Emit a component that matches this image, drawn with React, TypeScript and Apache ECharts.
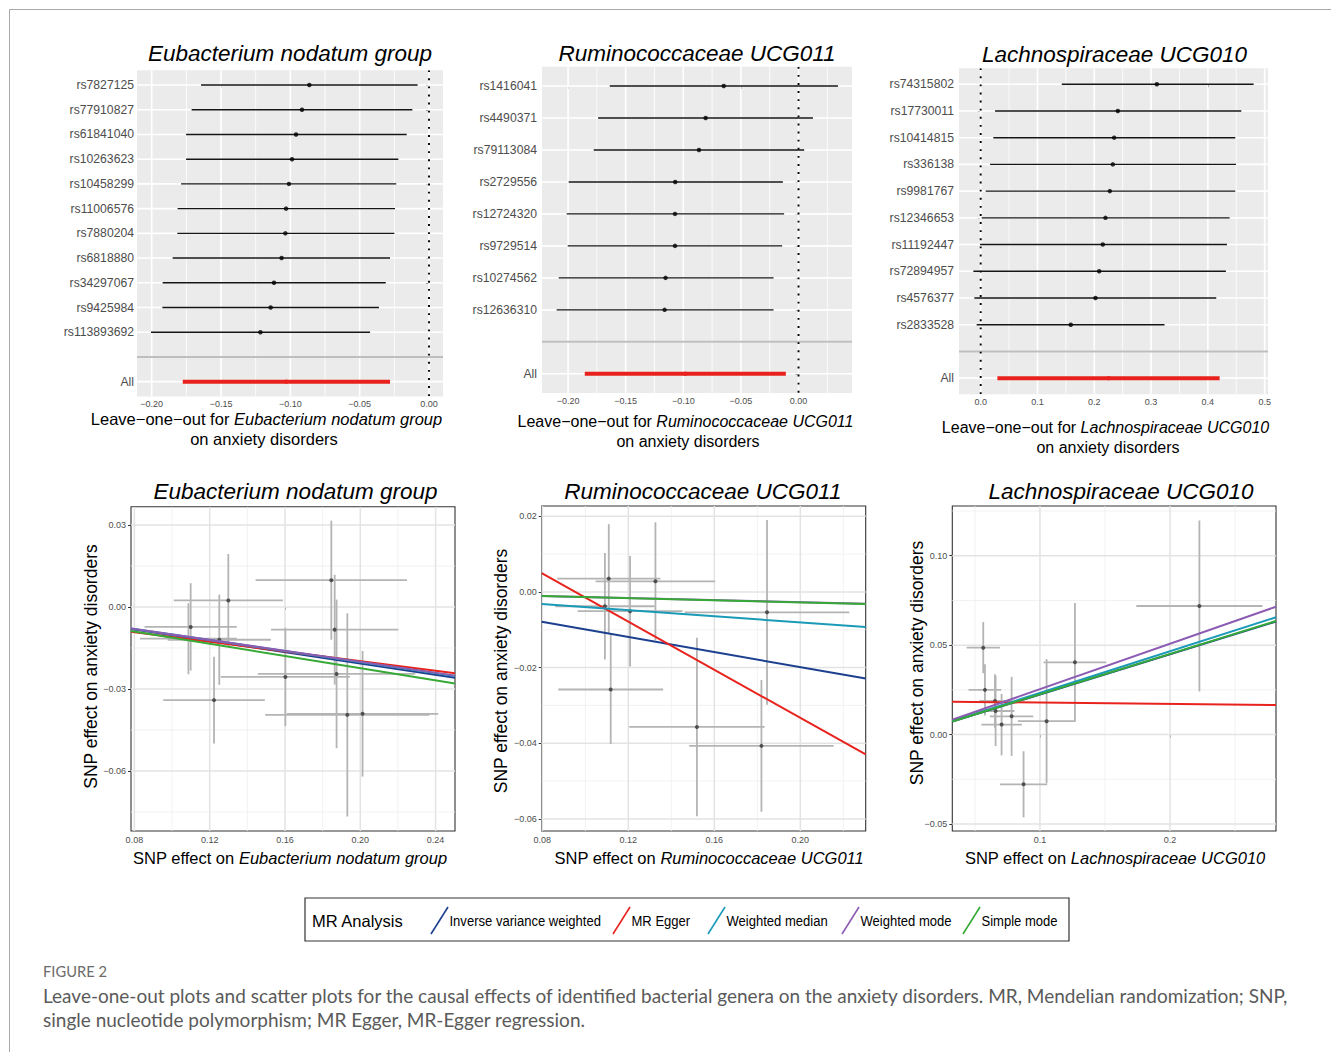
import React, { useEffect, useRef } from "react";
import * as echarts from "echarts";

const FONT = "'Liberation Sans', Arial, Helvetica, sans-serif";
const CAP_FONT = "Lato, 'Open Sans', 'Noto Sans', sans-serif";
const MINUS = "\u2212";

// ---------------- Leave-one-out data ----------------
const f1Name = "Eubacterium nodatum group";
const f1Snps = ["rs7827125", "rs77910827", "rs61841040", "rs10263623", "rs10458299", "rs11006576", "rs7880204", "rs6818880", "rs34297067", "rs9425984", "rs113893692"];
const f1Est = [-0.0863, -0.0916, -0.0959, -0.0988, -0.101, -0.1031, -0.1036, -0.1063, -0.1118, -0.1142, -0.1216];
const f1Lo = [-0.1644, -0.1712, -0.1752, -0.1752, -0.1788, -0.1813, -0.1815, -0.1849, -0.1921, -0.1923, -0.2005];
const f1Hi = [-0.0082, -0.012, -0.0161, -0.0221, -0.0236, -0.0245, -0.025, -0.0281, -0.0312, -0.0361, -0.0425];
const f1All = [-0.1776, -0.1029, -0.0281];

const f2Name = "Ruminococcaceae UCG011";
const f2Snps = ["rs1416041", "rs4490371", "rs79113084", "rs2729556", "rs12724320", "rs9729514", "rs10274562", "rs12636310"];
const f2Est = [-0.0649, -0.0806, -0.0864, -0.107, -0.1072, -0.1072, -0.1154, -0.1162];
const f2Lo = [-0.1638, -0.1739, -0.1777, -0.1994, -0.2012, -0.2003, -0.2081, -0.2099];
const f2Hi = [0.0342, 0.0125, 0.0049, -0.0136, -0.0125, -0.0142, -0.0217, -0.0217];
const f2All = [-0.1855, -0.0983, -0.011];

const f3Name = "Lachnospiraceae UCG010";
const f3Snps = ["rs74315802", "rs17730011", "rs10414815", "rs336138", "rs9981767", "rs12346653", "rs11192447", "rs72894957", "rs4576377", "rs2833528"];
const f3Est = [0.3102, 0.2415, 0.235, 0.2327, 0.2274, 0.2197, 0.215, 0.2086, 0.2021, 0.1586];
const f3Lo = [0.1428, 0.0253, 0.0223, 0.0165, 0.0088, 0.0018, -0.0012, -0.0129, -0.0112, -0.0071];
const f3Hi = [0.4806, 0.4589, 0.4483, 0.4495, 0.4483, 0.4383, 0.4336, 0.4318, 0.4148, 0.3237];
const f3All = [0.0294, 0.2251, 0.4207];

// forest axis ticks
const fNegTicks = [-0.2, -0.15, -0.1, -0.05, 0];
const f1Minor = [-0.175, -0.125, -0.075, -0.025];
const f2Minor = [-0.175, -0.125, -0.075, -0.025, 0.025];
const f3Ticks = [0, 0.1, 0.2, 0.3, 0.4, 0.5];
const f3Minor = [0.05, 0.15, 0.25, 0.35, 0.45];

// ---------------- Scatter data ----------------
const s1X = [0.1099, 0.1087, 0.1251, 0.1299, 0.1223, 0.1602, 0.1846, 0.1864, 0.1874, 0.1931, 0.2012];
const s1XSe = [0.0245, 0.0257, 0.0274, 0.029, 0.027, 0.0343, 0.0402, 0.0338, 0.0418, 0.0436, 0.0402];
const s1Y = [-0.0073, -0.0116, -0.012, 0.0024, -0.0341, -0.0256, 0.0098, -0.0083, -0.0245, -0.0395, -0.0391];
const s1YSe = [0.016, 0.013, 0.0165, 0.017, 0.0159, 0.018, 0.0218, 0.0201, 0.0272, 0.0372, 0.023];

const s2X = [0.1109, 0.1091, 0.1208, 0.1326, 0.1118, 0.1519, 0.1819, 0.1845];
const s2XSe = [0.024, 0.0231, 0.0244, 0.0278, 0.0244, 0.0315, 0.0336, 0.0383];
const s2Y = [0.0035, -0.0038, -0.0051, 0.0028, -0.0258, -0.0357, -0.0407, -0.0054];
const s2YSe = [0.0144, 0.0141, 0.0146, 0.0156, 0.0144, 0.0236, 0.0174, 0.0244];

const s3X = [0.2226, 0.1269, 0.1051, 0.0874, 0.0564, 0.0577, 0.0659, 0.0705, 0.0782, 0.0654];
const s3XSe = [0.0485, 0.0241, 0.0221, 0.0182, 0.0128, 0.0126, 0.0145, 0.0156, 0.0167, 0.012];
const s3Y = [0.0719, 0.0404, 0.0075, -0.0278, 0.0486, 0.025, 0.0132, 0.0056, 0.0102, 0.0188];
const s3YSe = [0.0478, 0.0331, 0.0347, 0.0185, 0.0143, 0.0143, 0.0196, 0.0172, 0.0221, 0.015];

// MR methods: slopes and intercepts per panel
const methods = ["Inverse variance weighted", "MR Egger", "Weighted median", "Weighted mode", "Simple mode"];
const s1Slope = [-0.1034, -0.0883, -0.101, -0.1004, -0.112];
const s1Intercept = [0, -0.0022, 0, 0, 0];
const s2Slope = [-0.0994, -0.318, 0, -0.0135, -0.0138];
const s2Intercept = [0, 0.0303, 0, 0, 0];
s2Slope[2] = -0.0403;
const s3Slope = [0.2245, -0.0072, 0.233, 0.254, 0.2255];
const s3Intercept = [0, 0.0186, 0, 0, 0];

// scatter axis ticks
const s1XTicks = [0.08, 0.12, 0.16, 0.2, 0.24];
const s1XMinor = [0.1, 0.14, 0.18, 0.22];
const s1YTicks = [0.03, 0, -0.03, -0.06];
const s1YMinor = [0.015, -0.015, -0.045, -0.075];
const s2XTicks = [0.08, 0.12, 0.16, 0.2];
const s2XMinor = [0.1, 0.14, 0.18, 0.22];
const s2YTicks = [0.02, 0, -0.02, -0.04, -0.06];
const s2YMinor = [0.01, -0.01, -0.03, -0.05];
const s3XTicks = [0.1, 0.2];
const s3XMinor = [0.05, 0.15, 0.25];
const s3YTicks = [0.1, 0.05, 0, -0.05];
const s3YMinor = [0.125, 0.075, 0.025, -0.025];

const captionLines = [
  "Leave-one-out plots and scatter plots for the causal effects of identified bacterial genera on the anxiety disorders. MR, Mendelian randomization; SNP,",
  "single nucleotide polymorphism; MR Egger, MR-Egger regression.",
];

// ---------------- Styles / layout ----------------
const METHOD_COLORS = ["#1c3f8f", "#e8231d", "#1b9ab8", "#8c5bb2", "#37a936"];
const RED = "#e8211c";

const forestLayout = [
  { grid: { left: 137, top: 70.2, width: 306, height: 326.3 }, xMin: -0.2106, xMax: 0.0101, labelMargin: 3, title: [290, 53.3], xt1: [266.5, 418.5], xt2: [264, 438.5], xtSize: 16.5 },
  { grid: { left: 542, top: 66.8, width: 310, height: 326.2 }, xMin: -0.2226, xMax: 0.0464, labelMargin: 5, title: [697, 53.3], xt1: [685.5, 421.5], xt2: [688, 441.5], xtSize: 16 },
  { grid: { left: 959, top: 68.2, width: 309, height: 326.0 }, xMin: -0.0382, xMax: 0.5059, labelMargin: 5, title: [1114.5, 54.3], xt1: [1105.5, 427], xt2: [1108, 447], xtSize: 16 },
];
const scatterLayout = [
  { grid: { left: 131, top: 506.7, width: 324, height: 324.3 }, xMin: 0.0782, xMax: 0.2503, yMin: -0.082, yMax: 0.0367, title: [295.5, 491.7], xt: [290, 858.3], yt: [91, 666.5] },
  { grid: { left: 541.7, top: 506, width: 324, height: 325 }, xMin: 0.0797, xMax: 0.2304, yMin: -0.0632, yMax: 0.0227, title: [702.8, 491.7], xt: [709, 858.3], yt: [501, 671] },
  { grid: { left: 952.3, top: 506, width: 323.7, height: 325 }, xMin: 0.0326, xMax: 0.2815, yMin: -0.0539, yMax: 0.1278, title: [1121, 491.7], xt: [1115, 858.3], yt: [916.7, 663] },
];

function fmt(v: number, dec: number) {
  const s = Math.abs(v) < 1e-12 ? (0).toFixed(dec) : v.toFixed(dec);
  return s.replace("-", MINUS);
}

function gridLineSeries(gi: number, data: number[][], styles: any[]) {
  return {
    type: "custom",
    xAxisIndex: gi,
    yAxisIndex: gi,
    z: 1,
    silent: true,
    clip: true,
    data,
    renderItem: (params: any, api: any) => {
      const cs = params.coordSys;
      const kind = api.value(2);
      const p = api.coord([api.value(0), api.value(1)]);
      const vertical = kind === 0 || kind === 1 || kind === 5;
      const shape = vertical
        ? { x1: p[0], y1: cs.y, x2: p[0], y2: cs.y + cs.height }
        : { x1: cs.x, y1: p[1], x2: cs.x + cs.width, y2: p[1] };
      return { type: "line", shape, style: styles[kind] };
    },
  };
}

function buildOption() {
  const grids: any[] = [];
  const xAxes: any[] = [];
  const yAxes: any[] = [];
  const series: any[] = [];
  const graphics: any[] = [];

  const tickLabel = { color: "#4d4d4d", fontFamily: FONT, fontSize: 9 };

  const text = (x: number, y: number, t: string, size: number, extra: any = {}, el: any = {}) => ({
    type: "text",
    x,
    y,
    silent: true,
    ...el,
    style: {
      text: t,
      fontSize: size,
      fontFamily: FONT,
      fill: "#000",
      align: "center",
      verticalAlign: "middle",
      textAlign: "center",
      textVerticalAlign: "middle",
      ...extra,
    },
  });

  // ---------- forest plots ----------
  const forests = [
    { name: f1Name, snps: f1Snps, est: f1Est, lo: f1Lo, hi: f1Hi, all: f1All, ticks: fNegTicks, minor: f1Minor, dec: 2 },
    { name: f2Name, snps: f2Snps, est: f2Est, lo: f2Lo, hi: f2Hi, all: f2All, ticks: fNegTicks, minor: f2Minor, dec: 2 },
    { name: f3Name, snps: f3Snps, est: f3Est, lo: f3Lo, hi: f3Hi, all: f3All, ticks: f3Ticks, minor: f3Minor, dec: 1 },
  ];

  forests.forEach((f, k) => {
    const L = forestLayout[k];
    const gi = k;
    const levels = [...f.snps, "", "All"];
    const idx = levels.map((_, i) => i);
    const blank = f.snps.length;
    const allIdx = f.snps.length + 1;
    grids.push({ ...L.grid, show: true, backgroundColor: "#ebebeb", borderWidth: 0 });
    xAxes.push({
      type: "value", gridIndex: gi, min: L.xMin, max: L.xMax,
      splitLine: { show: false }, axisLine: { show: false },
      axisTick: { show: true, customValues: f.ticks, length: 3, lineStyle: { color: "#333", width: 1 } },
      axisLabel: { customValues: f.ticks, formatter: (v: number) => fmt(v, f.dec), margin: 3, ...tickLabel },
    });
    yAxes.push({
      type: "value", gridIndex: gi, inverse: true, min: -0.6, max: levels.length - 1 + 0.6,
      splitLine: { show: false }, axisLine: { show: false },
      axisTick: { show: true, customValues: idx, length: 3, lineStyle: { color: "#333", width: 1 } },
      axisLabel: {
        customValues: idx,
        formatter: (v: number) => levels[Math.round(v)] ?? "",
        margin: L.labelMargin, color: "#4d4d4d", fontFamily: FONT, fontSize: 12.2,
      },
    });
    const gdata: number[][] = [
      ...f.minor.map((v) => [v, 0, 1]),
      ...f.ticks.map((v) => [v, 0, 0]),
      ...idx.map((i) => [L.xMin, i, 2]),
      [L.xMin, blank, 4],
      [0, 0, 5],
    ];
    series.push(
      gridLineSeries(gi, gdata, [
        { stroke: "#ffffff", lineWidth: 1.6 },
        { stroke: "#ffffff", lineWidth: 0.8 },
        { stroke: "#ffffff", lineWidth: 1.6 },
        { stroke: "#ffffff", lineWidth: 0.8 },
        { stroke: "#bebebe", lineWidth: 2 },
        { stroke: "#000000", lineWidth: 1.9, lineDash: [1.9, 6.2] },
      ])
    );
    const bars = f.snps.map((_, i) => [f.lo[i], f.hi[i], i, 0]);
    bars.push([f.all[0], f.all[2], allIdx, 1]);
    series.push({
      type: "custom", xAxisIndex: gi, yAxisIndex: gi, z: 3, silent: true, clip: true,
      encode: { x: [0, 1], y: 2 },
      data: bars,
      renderItem: (_p: any, api: any) => {
        const a = api.coord([api.value(0), api.value(2)]);
        const b = api.coord([api.value(1), api.value(2)]);
        const tot = api.value(3) === 1;
        return {
          type: "line",
          shape: { x1: a[0], y1: a[1], x2: b[0], y2: b[1] },
          style: { stroke: tot ? RED : "#151515", lineWidth: tot ? 4 : 1.4 },
        };
      },
    });
    series.push({
      type: "scatter", xAxisIndex: gi, yAxisIndex: gi, z: 4, silent: true,
      symbolSize: 4.5,
      data: [
        ...f.snps.map((_, i) => ({ value: [f.est[i], i], itemStyle: { color: "#000" } })),
        { value: [f.all[1], allIdx], itemStyle: { color: RED } },
      ],
    });
    graphics.push(text(L.title[0], L.title[1], f.name, 22.5, { fontStyle: "italic" }));
    graphics.push(
      text(L.xt1[0], L.xt1[1], `{n|Leave${MINUS}one${MINUS}out for }{i|${f.name}}`, L.xtSize, {
        rich: {
          n: { fontSize: L.xtSize, fontFamily: FONT, fill: "#000" },
          i: { fontSize: L.xtSize, fontFamily: FONT, fill: "#000", fontStyle: "italic" },
        },
      })
    );
    graphics.push(text(L.xt2[0], L.xt2[1], "on anxiety disorders", L.xtSize));
  });

  // ---------- scatter plots ----------
  const scatters = [
    { name: f1Name, x: s1X, xse: s1XSe, y: s1Y, yse: s1YSe, slope: s1Slope, intercept: s1Intercept, xt: s1XTicks, xm: s1XMinor, yt: s1YTicks, ym: s1YMinor, xdec: 2, ydec: 2 },
    { name: f2Name, x: s2X, xse: s2XSe, y: s2Y, yse: s2YSe, slope: s2Slope, intercept: s2Intercept, xt: s2XTicks, xm: s2XMinor, yt: s2YTicks, ym: s2YMinor, xdec: 2, ydec: 2 },
    { name: f3Name, x: s3X, xse: s3XSe, y: s3Y, yse: s3YSe, slope: s3Slope, intercept: s3Intercept, xt: s3XTicks, xm: s3XMinor, yt: s3YTicks, ym: s3YMinor, xdec: 1, ydec: 2 },
  ];

  scatters.forEach((s, k) => {
    const L = scatterLayout[k];
    const gi = 3 + k;
    grids.push({ ...L.grid, show: true, backgroundColor: "#ffffff", borderColor: "#333", borderWidth: 1.1 });
    xAxes.push({
      type: "value", gridIndex: gi, min: L.xMin, max: L.xMax,
      splitLine: { show: false }, axisLine: { show: false },
      axisTick: { show: true, customValues: s.xt, length: 3, lineStyle: { color: "#333", width: 1 } },
      axisLabel: { customValues: s.xt, formatter: (v: number) => fmt(v, s.xdec), margin: 4, ...tickLabel },
    });
    yAxes.push({
      type: "value", gridIndex: gi, min: L.yMin, max: L.yMax,
      splitLine: { show: false }, axisLine: { show: false },
      axisTick: { show: true, customValues: s.yt, length: 3, lineStyle: { color: "#333", width: 1 } },
      axisLabel: { customValues: s.yt, formatter: (v: number) => fmt(v, s.ydec), margin: 5, ...tickLabel },
    });
    const gdata: number[][] = [
      ...s.xm.map((v) => [v, L.yMin, 1]),
      ...s.ym.map((v) => [L.xMin, v, 3]),
      ...s.xt.map((v) => [v, L.yMin, 0]),
      ...s.yt.map((v) => [L.xMin, v, 2]),
    ];
    series.push(
      gridLineSeries(gi, gdata, [
        { stroke: "#e3e3e3", lineWidth: 1.5 },
        { stroke: "#efefef", lineWidth: 0.8 },
        { stroke: "#e3e3e3", lineWidth: 1.5 },
        { stroke: "#efefef", lineWidth: 0.8 },
      ])
    );
    series.push({
      type: "custom", xAxisIndex: gi, yAxisIndex: gi, z: 3, silent: true, clip: true,
      data: s.x.map((xv, i) => [xv, s.y[i], s.xse[i], s.yse[i]]),
      renderItem: (_p: any, api: any) => {
        const x = api.value(0), y = api.value(1), xe = api.value(2), ye = api.value(3);
        const v1 = api.coord([x, y - ye]);
        const v2 = api.coord([x, y + ye]);
        const h1 = api.coord([x - xe, y]);
        const h2 = api.coord([x + xe, y]);
        const st = { stroke: "#b4b4b4", lineWidth: 1.8 };
        return {
          type: "group",
          children: [
            { type: "line", shape: { x1: v1[0], y1: v1[1], x2: v2[0], y2: v2[1] }, style: st },
            { type: "line", shape: { x1: h1[0], y1: h1[1], x2: h2[0], y2: h2[1] }, style: st },
          ],
        };
      },
    });
    series.push({
      type: "scatter", xAxisIndex: gi, yAxisIndex: gi, z: 4, silent: true,
      symbolSize: 4, itemStyle: { color: "#333" },
      data: s.x.map((xv, i) => [xv, s.y[i]]),
    });
    methods.forEach((m, j) => {
      series.push({
        type: "line", name: m, xAxisIndex: gi, yAxisIndex: gi, z: 5, silent: true,
        symbol: "none", clip: true,
        lineStyle: { color: METHOD_COLORS[j], width: 2 },
        data: [
          [L.xMin, s.intercept[j] + s.slope[j] * L.xMin],
          [L.xMax, s.intercept[j] + s.slope[j] * L.xMax],
        ],
      });
    });
    graphics.push(text(L.title[0], L.title[1], s.name, 22.5, { fontStyle: "italic" }));
    graphics.push(
      text(L.xt[0], L.xt[1], `{n|SNP effect on }{i|${s.name}}`, 16.5, {
        rich: {
          n: { fontSize: 16.5, fontFamily: FONT, fill: "#000" },
          i: { fontSize: 16.5, fontFamily: FONT, fill: "#000", fontStyle: "italic" },
        },
      })
    );
    graphics.push(text(L.yt[0], L.yt[1], "SNP effect on anxiety disorders", 17.5, {}, { rotation: Math.PI / 2 }));
  });

  // ---------- legend ----------
  graphics.push({
    type: "rect", silent: true,
    shape: { x: 305, y: 898, width: 764, height: 43 },
    style: { fill: "#fff", stroke: "#333", lineWidth: 1.2 },
  });
  graphics.push(text(312, 921, "MR Analysis", 16.5, { align: "left", textAlign: "left" }));
  const keyX = [431, 613, 708, 842, 963];
  methods.forEach((m, j) => {
    graphics.push({
      type: "line", silent: true,
      shape: { x1: keyX[j], y1: 934, x2: keyX[j] + 17, y2: 907 },
      style: { stroke: METHOD_COLORS[j], lineWidth: 1.6 },
    });
    graphics.push(text(keyX[j] + 18.5, 921, m, 15, { align: "left", textAlign: "left" }, { scaleX: 0.87 }));
  });

  // ---------- caption & frame ----------
  graphics.push({ type: "line", silent: true, shape: { x1: 9.5, y1: 9.5, x2: 1331, y2: 9.5 }, style: { stroke: "#a8a8a8", lineWidth: 1 } });
  graphics.push({ type: "line", silent: true, shape: { x1: 9.5, y1: 9.5, x2: 9.5, y2: 1052 }, style: { stroke: "#a8a8a8", lineWidth: 1 } });
  graphics.push(text(43, 971, "FIGURE 2", 14.7, { align: "left", textAlign: "left", fontFamily: CAP_FONT, fill: "#6b6b6b" }));
  graphics.push(text(43, 995, captionLines[0], 19, { align: "left", textAlign: "left", fontFamily: CAP_FONT, fill: "#5a5a5a" }));
  graphics.push(text(43, 1019, captionLines[1], 19, { align: "left", textAlign: "left", fontFamily: CAP_FONT, fill: "#5a5a5a" }));

  return {
    animation: false,
    backgroundColor: "#ffffff",
    grid: grids,
    xAxis: xAxes,
    yAxis: yAxes,
    series,
    graphic: { elements: graphics },
  };
}

export default function App() {
  const ref = useRef<HTMLDivElement>(null);
  useEffect(() => {
    if (!ref.current) return;
    const chart = echarts.init(ref.current, null, { renderer: "svg" });
    chart.setOption(buildOption() as any);
    return () => chart.dispose();
  }, []);
  return (
    <div
      ref={ref}
      style={{ position: "absolute", left: 0, top: 0, width: 1331, height: 1052, background: "#fff" }}
    />
  );
}
